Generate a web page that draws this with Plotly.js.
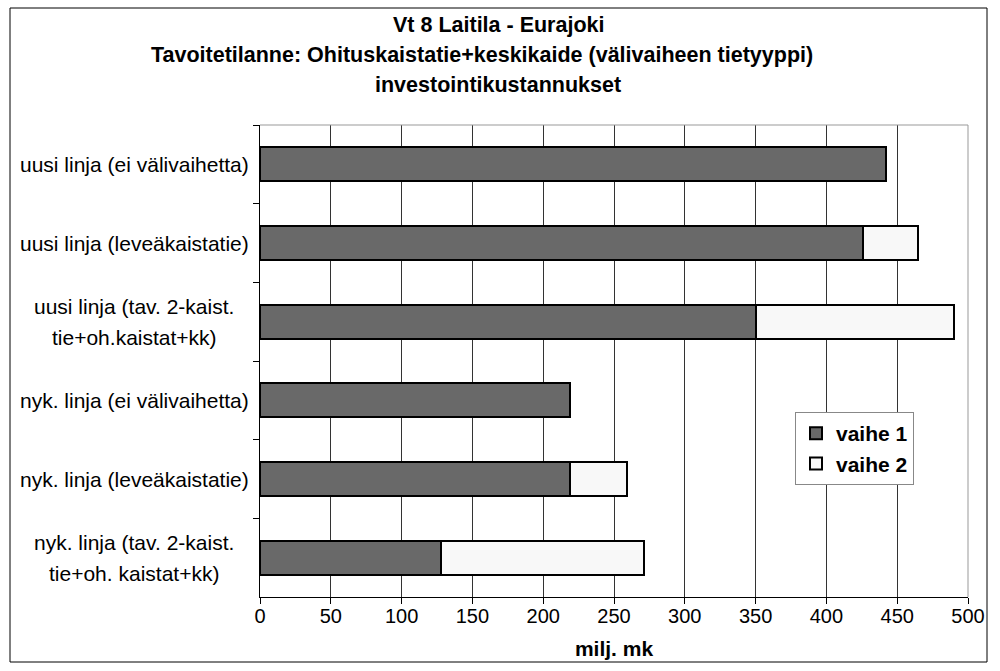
<!DOCTYPE html>
<html>
<head>
<meta charset="utf-8">
<script src="https://cdn.plot.ly/plotly-3.0.1.min.js"></script>
<style>html,body{margin:0;padding:0;background:#fff;}</style>
</head>
<body>
<div id="chart" style="width:1000px;height:671px;"></div>
<script>
// ---- data ----
const categories = [
  "uusi linja (ei välivaihetta)",
  "uusi linja (leveäkaistatie)",
  "uusi linja (tav. 2-kaist.<br>tie+oh.kaistat+kk)",
  "nyk. linja (ei välivaihetta)",
  "nyk. linja (leveäkaistatie)",
  "nyk. linja (tav. 2-kaist.<br>tie+oh. kaistat+kk)"
];
const vaihe1 = [442, 426, 350, 219, 219, 128];
const vaihe2 = [null, 39, 140, null, 40, 143];
const seriesNames = ["vaihe 1", "vaihe 2"];
const titleLines = ["Vt 8 Laitila - Eurajoki", "Tavoitetilanne: Ohituskaistatie+keskikaide (välivaiheen tietyyppi)", "investointikustannukset"];
const xTitle = "milj. mk";

// ---- layout geometry (px) ----
const W = 1000, H = 671;
const L = 260, R = 968, T = 125, B = 597;
const pw = R - L, ph = B - T;
const px2x = p => (p - L) / pw;
const py2y = p => (B - p) / ph;
const FONT = "Liberation Sans, Arial, sans-serif";

const traces = [
  {type: "bar", orientation: "h", name: seriesNames[0], y: categories, x: vaihe1,
   marker: {color: "#696969", line: {color: "#000", width: 2}}, legendgroup: "g1", hoverinfo: "x+y"},
  {type: "bar", orientation: "h", name: seriesNames[1], y: categories, x: vaihe2,
   marker: {color: "#f8f8f8", line: {color: "#000", width: 2}}, legendgroup: "g2", hoverinfo: "x+y"}
];

const annotations = [];
const titleYs = [25, 55, 85];
const titleXs = [498, 482, 498];
titleLines.forEach((t, i) => {
  annotations.push({text: "<b>" + t + "</b>", xref: "paper", yref: "paper",
    x: px2x(titleXs[i]), y: py2y(titleYs[i]), xanchor: "center", yanchor: "middle",
    showarrow: false, font: {family: FONT, size: 21.5, color: "#000"}});
});
categories.forEach(c => {
  const lines = c.split("<br>");
  lines.forEach((ln, j) => {
    const shift = lines.length === 1 ? 0 : (j === 0 ? 15.5 : -15.5);
    annotations.push({text: ln, xref: "paper", yref: "y", x: px2x(134), y: c,
      xanchor: "center", yanchor: "middle", yshift: shift, showarrow: false,
      font: {family: FONT, size: 21, color: "#000"}});
  });
});

const layout = {
  width: W, height: H,
  margin: {l: L, r: W - R, t: T, b: H - B, pad: 0},
  paper_bgcolor: "#fff", plot_bgcolor: "#fff",
  font: {family: FONT, size: 20, color: "#000"},
  barmode: "stack", bargap: 0.57,
  showlegend: true,
  legend: {x: px2x(914), y: py2y(412), xanchor: "right", yanchor: "top",
    bgcolor: "#fff", bordercolor: "#888", borderwidth: 1, traceorder: "normal",
    tracegroupgap: 9, itemwidth: 30,
    font: {family: FONT, size: 21, weight: "bold", color: "#000"}},
  xaxis: {range: [0, 500], tick0: 0, dtick: 50, showgrid: true, gridcolor: "#333", gridwidth: 1,
    zeroline: false, showline: true, linecolor: "#000", linewidth: 1,
    ticks: "outside", ticklen: 6, tickcolor: "#000", ticklabelstandoff: -5,
    tickfont: {family: FONT, size: 20, color: "#000"},
    title: {text: "<b>" + xTitle + "</b>", font: {family: FONT, size: 21, color: "#000"}, standoff: 15},
    fixedrange: true},
  yaxis: {type: "category", autorange: "reversed", showticklabels: false, showgrid: false,
    zeroline: false, showline: true, linecolor: "#000", linewidth: 1,
    ticks: "outside", tickson: "boundaries", ticklen: 6, tickcolor: "#000", fixedrange: true},
  annotations: annotations,
  shapes: [
    {type: "line", xref: "paper", yref: "paper", x0: 0, x1: 1, y0: 1, y1: 1, line: {color: "#999", width: 1}, layer: "above"},
    {type: "line", xref: "paper", yref: "paper", x0: 1, x1: 1, y0: 0, y1: 1, line: {color: "#999", width: 1}, layer: "above"},
    {type: "rect", xref: "paper", yref: "paper", x0: px2x(10), x1: px2x(987), y0: py2y(662), y1: py2y(8),
     line: {color: "#000", width: 1}, fillcolor: "rgba(0,0,0,0)", layer: "above"}
  ]
};

Plotly.newPlot("chart", traces, layout, {displayModeBar: false, staticPlot: true});
</script>
</body>
</html>
